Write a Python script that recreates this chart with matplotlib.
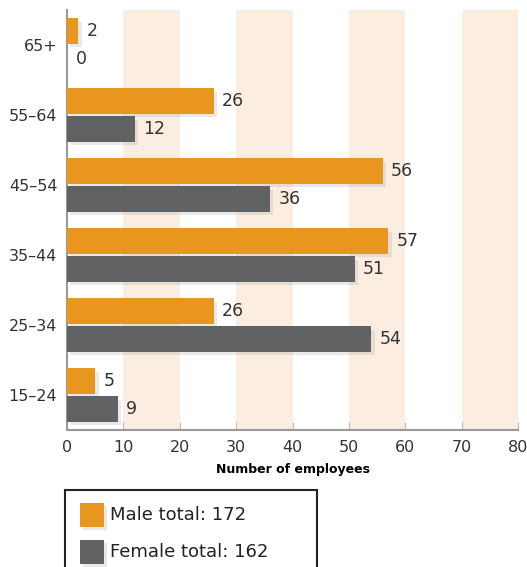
import matplotlib.pyplot as plt
import matplotlib.patheffects as pe
from matplotlib.patches import Rectangle
import numpy as np

groups = ['65+', '55–64', '45–54', '35–44', '25–34', '15–24']
male = [2, 26, 56, 57, 26, 5]
female = [0, 12, 36, 51, 54, 9]
legend_labels = ['Male total: 172', 'Female total: 162']

orange = '#E8961E'
grey = '#616264'
band = '#FBEDDF'

fig = plt.figure(figsize=(5.27, 5.67), dpi=100)
ax = fig.add_axes([67/527, 137/567, 451/527, 420/567])

y = np.arange(len(groups))
h = 0.36
shadow = [pe.SimplePatchShadow(offset=(2.5, -2.5), shadow_rgbFace='#aaaaaa', alpha=0.25), pe.Normal()]

for lo in [10, 30, 50, 70]:
    ax.axvspan(lo, lo + 10, color=band, zorder=0, lw=0)

mb = ax.barh(y - 0.2, male, height=h, color=orange, zorder=3)
fb = ax.barh(y + 0.2, female, height=h, color=grey, zorder=3)
for b in list(mb) + list(fb):
    if b.get_width() > 0:
        b.set_path_effects(shadow)

for yi, v in zip(y, male):
    ax.text(v + 1.5, yi - 0.2, str(v), va='center', ha='left', fontsize=12.5, color='#333333')
for yi, v in zip(y, female):
    ax.text(v + 1.5, yi + 0.2, str(v), va='center', ha='left', fontsize=12.5, color='#333333')

ax.set_xlim(0, 80)
ax.set_ylim(5.5, -0.5)
ax.set_yticks(y)
ax.set_yticklabels(groups, fontsize=11.5, color='#333333')
ax.set_xticks(np.arange(0, 81, 10))
ax.tick_params(axis='x', direction='in', length=6, color='#bbbbbb', labelsize=11.5, labelcolor='#333333', pad=7)
ax.tick_params(axis='y', length=0, pad=7)
for s in ['top', 'right']:
    ax.spines[s].set_visible(False)
ax.spines['left'].set_color('#999999')
ax.spines['bottom'].set_color('#999999')
ax.spines['left'].set_linewidth(1.5)
ax.spines['bottom'].set_linewidth(1.5)
ax.set_xlabel('Number of employees', fontsize=9, fontweight='bold', labelpad=6)

# legend box running off the bottom edge
fig.patches.append(Rectangle((65/527, -0.05), 252/527, (567 - 490)/567 + 0.05,
                             transform=fig.transFigure, fill=False, ec='#222222', lw=1.5))
for i, (lab, c) in enumerate(zip(legend_labels, [orange, grey])):
    ytop = 503 + i * 37
    r = Rectangle((80/527, 1 - (ytop + 24)/567), 24/527, 24/567, transform=fig.transFigure,
                  fc=c, ec='none')
    r.set_path_effects(shadow)
    fig.patches.append(r)
    fig.text(110/527, 1 - (ytop + 12)/567, lab, va='center', ha='left', fontsize=13, color='#222222')

fig.savefig('out.png', dpi=100)
